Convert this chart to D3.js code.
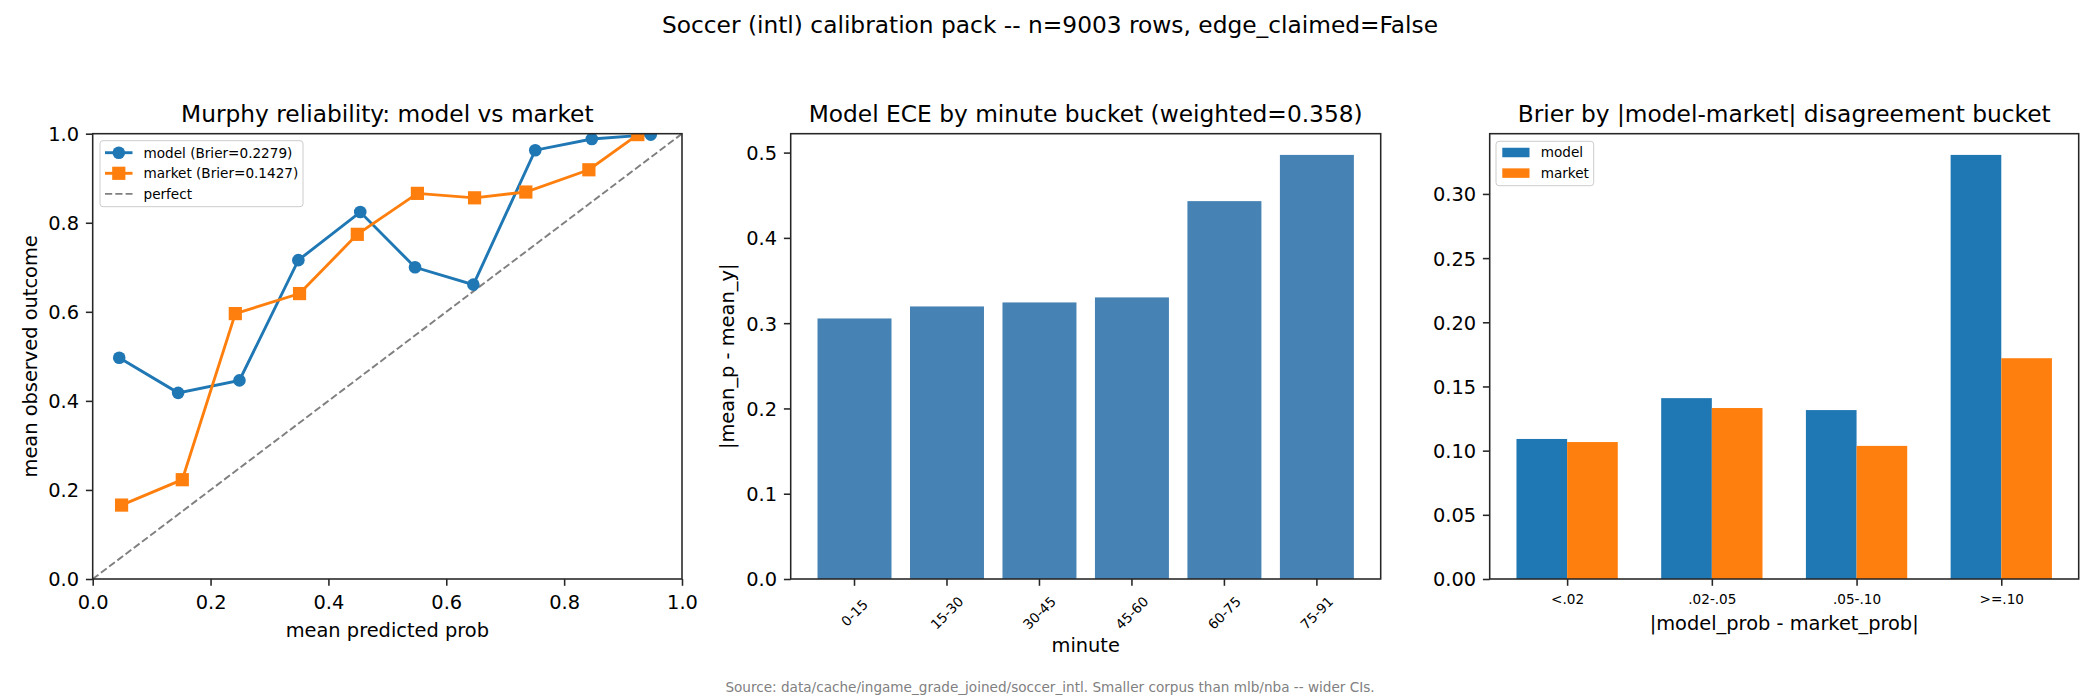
<!DOCTYPE html>
<html>
<head>
<meta charset="utf-8">
<script src="https://cdn.jsdelivr.net/npm/d3@7"></script>
<style>
  body { margin: 0; background: #fff; }
  svg text { font-family: "DejaVu Sans", sans-serif; fill: #000; }
</style>
</head>
<body>
<svg id="chart" width="2100" height="700"></svg>
<script>
// ---- data ----
const reliabModelX  = [0.045, 0.145, 0.249, 0.349, 0.454, 0.547, 0.646, 0.751, 0.847, 0.947];
const reliabModelY  = [0.497, 0.418, 0.446, 0.716, 0.824, 0.700, 0.661, 0.963, 0.988, 0.998];
const reliabMarketX = [0.049, 0.152, 0.242, 0.351, 0.449, 0.551, 0.648, 0.735, 0.842, 0.925];
const reliabMarketY = [0.166, 0.223, 0.596, 0.641, 0.774, 0.866, 0.856, 0.869, 0.919, 0.998];
const reliabTicks   = [0, 0.2, 0.4, 0.6, 0.8, 1.0];

const minuteBuckets = ["0-15", "15-30", "30-45", "45-60", "60-75", "75-91"];
const minuteEce     = [0.3055, 0.3196, 0.3243, 0.3302, 0.4431, 0.4973];
const eceTicks      = [0, 0.1, 0.2, 0.3, 0.4, 0.5];

const disagreeBuckets = ["<.02", ".02-.05", ".05-.10", ">=.10"];
const brierModel      = [0.1091, 0.1409, 0.1316, 0.3304];
const brierMarket     = [0.1067, 0.1332, 0.1037, 0.1720];
const brierTicks      = [0, 0.05, 0.10, 0.15, 0.20, 0.25, 0.30];

const C_MODEL = "#1f77b4", C_MARKET = "#ff7f0e", C_ECE = "#4682b4";

const svg = d3.select("#chart");
svg.append("rect").attr("width", 2100).attr("height", 700).attr("fill", "#fff");

// figure-level texts
svg.append("text").attr("x", 1050).attr("y", 32.5).attr("text-anchor", "middle")
  .style("font-size", "23.3px")
  .text("Soccer (intl) calibration pack -- n=9003 rows, edge_claimed=False");
svg.append("text").attr("x", 1050).attr("y", 692).attr("text-anchor", "middle")
  .style("font-size", "13.6px").style("fill", "#808080")
  .text("Source: data/cache/ingame_grade_joined/soccer_intl. Smaller corpus than mlb/nba -- wider CIs.");

const TOP = 133.7, BOT = 579;
const TICK = 6.8, PAD = 6.8;

function frame(x0, x1, title) {
  const g = svg.append("g");
  g.append("text").attr("x", (x0 + x1) / 2).attr("y", 122).attr("text-anchor", "middle")
    .style("font-size", "23.3px").text(title);
  return g;
}

function spines(g, x0, x1) {
  g.append("rect").attr("x", x0).attr("y", TOP).attr("width", x1 - x0).attr("height", BOT - TOP)
    .attr("fill", "none").attr("stroke", "#262626").attr("stroke-width", 1.56);
}

function yAxis(g, x0, y, ticks, fmt) {
  const ax = g.append("g").attr("transform", `translate(${x0},0)`)
    .call(d3.axisLeft(y).tickValues(ticks).tickFormat(d3.format(fmt))
      .tickSize(TICK).tickPadding(PAD));
  ax.select(".domain").remove();
  ax.selectAll("line").attr("stroke", "#262626").attr("stroke-width", 1.56);
  ax.selectAll("text").style("font-size", "19.4px").attr("font-family", null).attr("fill", "#000")
    .attr("dy", "0.36em");
  return ax;
}

function xAxis(g, x, ticks, fmt, size) {
  const axis = d3.axisBottom(x).tickSize(TICK).tickPadding(PAD);
  if (ticks) axis.tickValues(ticks);
  if (fmt) axis.tickFormat(d3.format(fmt));
  const ax = g.append("g").attr("transform", `translate(0,${BOT})`).call(axis);
  ax.select(".domain").remove();
  ax.selectAll("line").attr("stroke", "#262626").attr("stroke-width", 1.56);
  ax.selectAll("text").style("font-size", size).attr("font-family", null).attr("fill", "#000")
    .attr("dy", "0.84em");
  return ax;
}

function ylabel(g, x, yc, txt) {
  g.append("text").attr("transform", `translate(${x},${yc}) rotate(-90)`)
    .attr("text-anchor", "middle").style("font-size", "19.4px").text(txt);
}
function xlabel(g, xc, y, txt) {
  g.append("text").attr("x", xc).attr("y", y).attr("text-anchor", "middle")
    .style("font-size", "19.4px").text(txt);
}

// ---------- panel 1: reliability ----------
{
  const x0 = 92.7, x1 = 682;
  const g = frame(x0, x1, "Murphy reliability: model vs market");
  const x = d3.scaleLinear().domain([0, 1]).range([x0, x1]);
  const y = d3.scaleLinear().domain([0, 1]).range([BOT, TOP]);

  g.append("clipPath").attr("id", "clip1").append("rect")
    .attr("x", x0).attr("y", TOP).attr("width", x1 - x0).attr("height", BOT - TOP);
  const plot = g.append("g").attr("clip-path", "url(#clip1)");

  plot.append("path").datum([0, 1])
    .attr("d", d3.line().x(d => x(d)).y(d => y(d)))
    .attr("stroke", "#808080").attr("stroke-width", 1.94).attr("stroke-dasharray", "7.2,3.1")
    .attr("fill", "none");

  const model = reliabModelX.map((v, i) => [v, reliabModelY[i]]);
  const market = reliabMarketX.map((v, i) => [v, reliabMarketY[i]]);
  const line = d3.line().x(d => x(d[0])).y(d => y(d[1]));

  plot.append("path").datum(model).attr("d", line)
    .attr("stroke", C_MODEL).attr("stroke-width", 2.9).attr("fill", "none");
  plot.selectAll("circle.m").data(model).enter().append("circle")
    .attr("cx", d => x(d[0])).attr("cy", d => y(d[1])).attr("r", 6.3)
    .attr("fill", C_MODEL);

  plot.append("path").datum(market).attr("d", line)
    .attr("stroke", C_MARKET).attr("stroke-width", 2.9).attr("fill", "none");
  plot.selectAll("rect.k").data(market).enter().append("rect")
    .attr("x", d => x(d[0]) - 6.6).attr("y", d => y(d[1]) - 6.6)
    .attr("width", 13.2).attr("height", 13.2).attr("fill", C_MARKET);

  spines(g, x0, x1);
  yAxis(g, x0, y, reliabTicks, ".1f");
  xAxis(g, x, reliabTicks, ".1f", "19.4px");
  ylabel(g, 37, (TOP + BOT) / 2, "mean observed outcome");
  xlabel(g, (x0 + x1) / 2, 637, "mean predicted prob");

  // legend
  const lg = g.append("g");
  lg.append("rect").attr("x", 100).attr("y", 140.7).attr("width", 203).attr("height", 66)
    .attr("rx", 3).attr("fill", "#fff").attr("fill-opacity", 0.8)
    .attr("stroke", "#cccccc").attr("stroke-width", 1);
  const rows = [
    { label: "model (Brier=0.2279)", color: C_MODEL, mark: "circle" },
    { label: "market (Brier=0.1427)", color: C_MARKET, mark: "square" },
    { label: "perfect", color: "#808080", mark: "dash" }
  ];
  rows.forEach((r, i) => {
    const cy = 152.7 + i * 20.6;
    const l = lg.append("line").attr("x1", 105).attr("x2", 132.5).attr("y1", cy).attr("y2", cy)
      .attr("stroke", r.color);
    if (r.mark === "dash") {
      l.attr("stroke-width", 1.94).attr("stroke-dasharray", "7.2,3.1");
    } else {
      l.attr("stroke-width", 2.9);
      if (r.mark === "circle") {
        lg.append("circle").attr("cx", 118.8).attr("cy", cy).attr("r", 6.3).attr("fill", r.color);
      } else {
        lg.append("rect").attr("x", 118.8 - 6.6).attr("y", cy - 6.6).attr("width", 13.2)
          .attr("height", 13.2).attr("fill", r.color);
      }
    }
    lg.append("text").attr("x", 143.5).attr("y", cy + 4.8).style("font-size", "13.6px").text(r.label);
  });
}

// ---------- panel 2: ECE by minute ----------
{
  const x0 = 790.7, x1 = 1380.7;
  const g = frame(x0, x1, "Model ECE by minute bucket (weighted=0.358)");
  // bar width 0.8 with 5% data margins -> 0.69 units of outer space each side
  const x = d3.scalePoint().domain(minuteBuckets).range([x0, x1]).padding(0.69);
  const step = x.step();
  const y = d3.scaleLinear().domain([0, 0.4973 * 1.05]).range([BOT, TOP]);

  g.selectAll("rect.bar").data(minuteBuckets).enter().append("rect")
    .attr("x", d => x(d) - 0.4 * step).attr("width", 0.8 * step)
    .attr("y", (d, i) => y(minuteEce[i])).attr("height", (d, i) => BOT - y(minuteEce[i]))
    .attr("fill", C_ECE);

  spines(g, x0, x1);
  yAxis(g, x0, y, eceTicks, ".1f");
  const ax = g.append("g").attr("transform", `translate(0,${BOT})`);
  minuteBuckets.forEach(d => {
    ax.append("line").attr("x1", x(d)).attr("x2", x(d)).attr("y1", 0).attr("y2", TICK)
      .attr("stroke", "#262626").attr("stroke-width", 1.56);
    ax.append("text").attr("transform", `translate(${x(d)},${613 - BOT}) rotate(-45)`)
      .attr("text-anchor", "middle").attr("dy", "0.35em").style("font-size", "13.6px").text(d);
  });
  ylabel(g, 734, (TOP + BOT) / 2, "|mean_p - mean_y|");
  xlabel(g, (x0 + x1) / 2, 652, "minute");
}

// ---------- panel 3: Brier by disagreement ----------
{
  const x0 = 1489.7, x1 = 2078.7;
  const g = frame(x0, x1, "Brier by |model-market| disagreement bucket");
  const w = 0.35;
  const lo = -w - 0.05 * (disagreeBuckets.length - 1 + 2 * w);
  const hi = disagreeBuckets.length - 1 + w + 0.05 * (disagreeBuckets.length - 1 + 2 * w);
  const x = d3.scaleLinear().domain([lo, hi]).range([x0, x1]);
  const y = d3.scaleLinear().domain([0, 0.3304 * 1.05]).range([BOT, TOP]);

  g.selectAll("rect.mod").data(brierModel).enter().append("rect")
    .attr("x", (d, i) => x(i - w)).attr("width", x(w) - x(0))
    .attr("y", d => y(d)).attr("height", d => BOT - y(d)).attr("fill", C_MODEL);
  g.selectAll("rect.mkt").data(brierMarket).enter().append("rect")
    .attr("x", (d, i) => x(i)).attr("width", x(w) - x(0))
    .attr("y", d => y(d)).attr("height", d => BOT - y(d)).attr("fill", C_MARKET);

  spines(g, x0, x1);
  yAxis(g, x0, y, brierTicks, ".2f");
  const ax = xAxis(g, x, d3.range(disagreeBuckets.length), null, "13.6px");
  ax.selectAll("text").text(i => disagreeBuckets[i]);
  xlabel(g, (x0 + x1) / 2, 630, "|model_prob - market_prob|");

  const lg = g.append("g");
  lg.append("rect").attr("x", 1496).attr("y", 141.3).attr("width", 97.7).attr("height", 44.4)
    .attr("rx", 3).attr("fill", "#fff").attr("fill-opacity", 0.8)
    .attr("stroke", "#cccccc").attr("stroke-width", 1);
  [["model", C_MODEL], ["market", C_MARKET]].forEach(([label, color], i) => {
    const cy = 152.5 + i * 20.6;
    lg.append("rect").attr("x", 1502.3).attr("y", cy - 4.75).attr("width", 27.2).attr("height", 9.5)
      .attr("fill", color);
    lg.append("text").attr("x", 1540.7).attr("y", cy + 4.8).style("font-size", "13.6px").text(label);
  });
}
</script>
</body>
</html>
